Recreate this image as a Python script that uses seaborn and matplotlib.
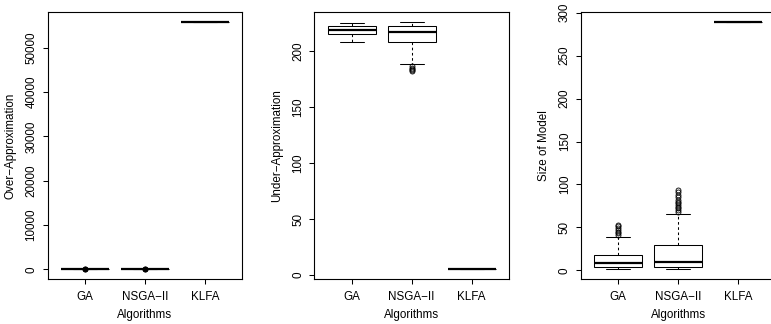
"""
    boxplots of the three algorithms: over-approx, under-approx, model size
"""

import pandas as pd
import matplotlib
matplotlib.use("Agg")
import matplotlib.pyplot as plt
import seaborn as sns

algorithms = ["GA", "NSGA\u2212II", "KLFA"]

# Over-Approximation
over_ga = [0, 0, 0, 0, 0, 0, 0, 0, 40, 80, 120]
over_nsga = [0, 0, 0, 0, 0, 0, 0, 0, 30, 70, 110]
over_klfa = [55750]

# Under-Approximation
under_ga = [208, 215, 219, 223, 225]
under_nsga = [182, 183, 184, 185, 186.5, 189, 208.7, 210, 212, 214, 215, 216,
              217.3, 218, 219, 220, 221, 222, 223, 223.5, 224, 224.5, 225,
              225.5, 226]
under_klfa = [5]

# Size of Model
size_ga = [2, 2, 3, 3, 3, 4, 4, 4, 4, 5, 5, 6, 6, 7, 8, 8, 9, 10, 11, 12, 13,
           14, 15, 16, 18, 39, 41, 43, 45, 47, 49, 51, 53]
size_nsga = [1, 1, 1, 2, 2, 2, 3, 3, 3, 3, 4, 4, 4, 4, 5, 5, 6, 6, 7, 7, 8, 8,
             9, 9, 9, 10, 10, 11, 12, 13, 14, 15, 17, 19, 21, 23, 25, 27, 28,
             29, 66, 68, 70, 72, 74, 76, 78, 80, 82, 85, 88, 91, 94]
size_klfa = [289]

panels = [
    ("Over\u2212Approximation", [over_ga, over_nsga, over_klfa],
     [0, 10000, 20000, 30000, 40000, 50000], "black"),
    ("Under\u2212Approximation", [under_ga, under_nsga, under_klfa],
     [0, 50, 100, 150, 200], "none"),
    ("Size of Model", [size_ga, size_nsga, size_klfa],
     [0, 50, 100, 150, 200, 250, 300], "none"),
]


def to_frame(groups):
    rows = []
    for name, vals in zip(algorithms, groups):
        for v in vals:
            rows.append({"algorithm": name, "value": v})
    return pd.DataFrame(rows)


sns.set_style("white", rc={"axes.edgecolor": "black", "axes.linewidth": 0.75,
                           "xtick.color": "black", "ytick.color": "black",
                           "text.color": "black", "axes.labelcolor": "black"})
plt.rcParams["font.family"] = ["Liberation Sans", "DejaVu Sans"]

W, H = 771, 324
fig = plt.figure(figsize=(W / 100, H / 100), dpi=100)
lefts = [47.7, 314.3, 581.0]
top, bottom, width = 12.3, 279.3, 194.5

for left, (ylabel, groups, yticks, fface) in zip(lefts, panels):
    ax = fig.add_axes([left / W, (H - bottom) / H, width / W, (bottom - top) / H])
    df = to_frame(groups)
    sns.boxplot(data=df, x="algorithm", y="value", order=algorithms, ax=ax,
                color="white", linecolor="black", linewidth=0.75, width=0.8,
                fliersize=3.6, saturation=1,
                medianprops={"linewidth": 1.6},
                whiskerprops={"linestyle": (0, (2.5, 2.5))},
                flierprops={"marker": "o", "markerfacecolor": fface,
                            "markeredgewidth": 0.6})
    lo, hi = df["value"].min(), df["value"].max()
    ext = 0.04 * (hi - lo)
    ax.set_ylim(lo - ext, hi + ext)
    ax.set_xlim(-0.62, 2.62)
    ax.set_yticks(yticks)
    ax.set_yticklabels([str(t) for t in yticks])
    ax.tick_params(axis="both", length=3.6, width=0.75, labelsize=8.4,
                   direction="out", left=True, bottom=True)
    ax.tick_params(axis="x", pad=4.8)
    ax.tick_params(axis="y", pad=3.8, labelrotation=90)
    for lab in ax.get_yticklabels():
        lab.set_va("center")
    ax.set_xlabel("Algorithms", fontsize=8.4, va="center")
    ax.set_ylabel(ylabel, fontsize=8.4, va="center")
    ax.xaxis.set_label_coords(0.5, -0.134)
    ax.yaxis.set_label_coords(-0.192, 0.5)

fig.savefig("out.png", dpi=100)
